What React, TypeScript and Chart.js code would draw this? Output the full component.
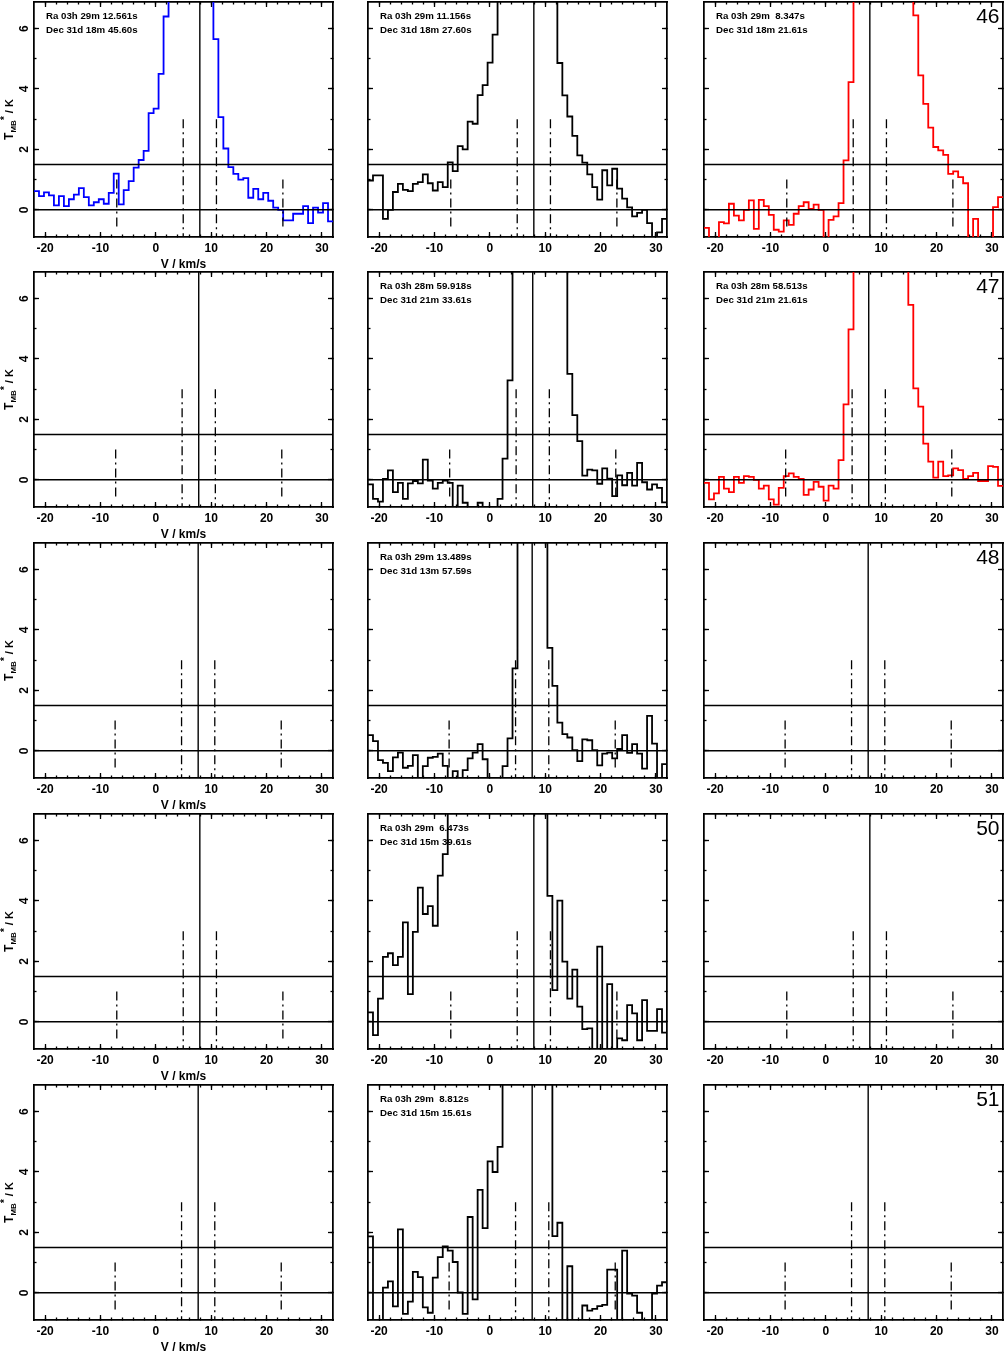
import React, { useEffect, useRef } from 'react';
import { Chart, registerables } from 'chart.js';

Chart.register(...registerables);

// ---------------- data ----------------
const V_MIN = -22;
const V_MAX = 32;
const T_MIN = -0.9;
const T_MAX = 6.88;

const X_MAJOR = [-20, -10, 0, 10, 20, 30];
const X_MINOR = [-20, -18, -16, -14, -12, -10, -8, -6, -4, -2, 0, 2, 4, 6, 8, 10, 12, 14, 16, 18, 20, 22, 24, 26, 28, 30];
const Y_MAJOR = [0, 2, 4, 6];
const Y_MINOR = [0, 1, 2, 3, 4, 5, 6];

const T_BASE = 0;
const T_LIMIT = 1.5;

// systemic velocity per row and hyperfine offsets (km/s)
const VSYS = [7.95, 7.75, 7.65, 7.95, 7.65];
const HF_OFFSET = [-15, -3, 3, 15];
const HF_TOP = [1.0, 3.0, 3.0, 1.0];
const HF_BOTTOM = [-0.57, -0.9, -0.9, -0.57];

// channel centre velocities (km/s)
const CHANNEL_V = [
  -21.55, -20.65, -19.75, -18.85, -17.95, -17.05, -16.15, -15.25, -14.35, -13.45,
  -12.55, -11.65, -10.75, -9.85, -8.95, -8.05, -7.15, -6.25, -5.35, -4.45,
  -3.55, -2.65, -1.75, -0.85, 0.05, 0.95, 1.85, 2.75, 3.65, 4.55,
  5.45, 6.35, 7.25, 8.15, 9.05, 9.95, 10.85, 11.75, 12.65, 13.55,
  14.45, 15.35, 16.25, 17.15, 18.05, 18.95, 19.85, 20.75, 21.65, 22.55,
  23.45, 24.35, 25.25, 26.15, 27.05, 27.95, 28.85, 29.75, 30.65, 31.55,
];

const SPEC_R1C1 = [
  0.62, 0.45, 0.58, 0.48, 0.15, 0.45, 0.12, 0.35, 0.5, 0.72,
  0.42, 0.15, 0.25, 0.35, 0.2, 0.56, 1.2, 0.18, 0.65, 0.95,
  1.4, 1.65, 1.95, 3.2, 3.35, 4.5, 6.4, 8.5, 10.5, 12,
  13, 13.5, 13, 12, 10, 8, 5.65, 3.07, 2.03, 1.41,
  1.19, 1.0, 1.05, 0.4, 0.69, 0.35, 0.56, 0.3, 0.07, 0.0,
  -0.35, -0.35, -0.13, -0.13, 0.12, -0.44, 0.07, -0.09, 0.22, -0.38,
];
const SPEC_R1C2 = [
  0.97, 1.14, 1.14, -0.3, 0.0, 0.59, 0.86, 0.66, 0.62, 0.86,
  0.92, 1.17, 0.88, 0.64, 0.92, 0.75, 1.57, 1.28, 2.11, 2.0,
  2.92, 2.85, 3.8, 4.13, 4.87, 5.8, 7.5, 9, 10.5, 12,
  13, 13.5, 13, 12, 11, 10, 9, 8, 4.86, 3.79,
  3.09, 2.45, 1.8, 1.56, 1.17, 0.75, 0.34, 1.31, 0.81, 1.36,
  0.7, 0.37, 0.08, -0.22, -0.1, 0.0, -0.44, -1.2, -0.75, -0.3,
];
const SPEC_R1C3 = [
  -0.6, -1.3, -1.3, -0.41, -0.45, 0.2, -0.19, -0.35, 0.0, 0.31,
  -0.63, 0.33, 0.12, -0.17, -0.66, -0.72, -0.35, -0.5, -0.13, 0.12,
  0.25, 0.03, 0.17, 0.0, -1.3, -0.33, -0.22, 0.22, 1.64, 4.23,
  8, 10, 12, 13.5, 14.5, 15, 15, 14.5, 13.5, 12,
  10.5, 8.5, 6.44, 4.45, 3.51, 2.72, 2.08, 1.97, 1.82, 1.19,
  1.27, 1.08, 0.88, -1.3, -0.3, -1.3, -1.3, -1.3, 0.09, 0.42,
];
const SPEC_R2C2 = [
  -0.15, -0.63, -0.72, 0.03, 0.31, -0.41, -0.1, -0.63, -0.12, -0.04,
  -0.12, 0.67, -0.03, -0.29, -0.1, -0.03, -0.1, -1.3, -0.19, -0.76,
  -1.3, -1.3, -0.76, -1.3, -1.3, -1.3, -0.63, 0.7, 3.29, 8,
  11, 13, 14, 14, 13.5, 12.5, 11, 9.5, 8, 7.5,
  3.51, 2.14, 1.28, 0.14, 0.34, 0.31, -0.13, 0.38, 0.04, -0.54,
  0.15, -0.18, 0.23, -0.19, 0.56, -0.08, -0.32, -0.15, -0.27, -0.75,
];
const SPEC_R2C3 = [
  -0.1, -0.65, -0.45, 0.1, -0.29, -0.41, 0.1, -0.1, 0.12, 0.1,
  0.0, -0.29, -0.19, -0.65, -0.82, -0.27, 0.12, 0.21, 0.1, 0.03,
  -0.5, -0.32, -0.07, -0.23, -0.69, -0.19, -0.29, 0.65, 2.5, 4.98,
  8, 10, 12, 13.5, 14.5, 15, 15, 14, 12.5, 10.5,
  8, 5.79, 3.03, 2.42, 1.2, 0.6, 0.07, 0.6, 0.12, 0.15,
  0.38, 0.32, 0.03, 0.12, 0.23, -0.04, -0.04, 0.45, 0.43, -0.2,
];
const SPEC_R3C2 = [
  0.52, 0.32, -0.31, -0.4, -0.67, -0.22, -0.06, -0.56, -0.5, -0.14,
  -1.3, -0.51, -0.23, -0.2, -0.09, -0.5, -1.3, -0.67, -1.3, -0.64,
  -0.25, -0.06, 0.22, -0.28, -1.3, -1.3, -1.3, -0.51, 0.41, 2.73,
  9, 12, 14, 14, 12, 9, 3.41, 2.15, 0.93, 0.55,
  0.44, 0.02, -0.34, 0.38, 0.35, 0.02, -0.48, -0.09, -0.06, -0.25,
  0.06, 0.52, -0.07, 0.22, -0.09, -0.59, 1.16, 0.24, -1.3, -0.44,
];
const SPEC_R4C2 = [
  0.31, -0.44, 0.77, 2.15, 2.27, 1.88, 2.15, 3.29, 0.92, 2.98,
  4.44, 3.57, 3.83, 3.18, 4.84, 5.55, 7.2, 8.4, 9.1, 10.6,
  11.3, 12.8, 13.2, 14.6, 15.1, 15.8, 16.3, 16.0, 15.4, 14.9,
  13.7, 13.1, 11.8, 10.4, 9.2, 7.9, 4.17, 1.05, 4.01, 1.99,
  0.77, 1.73, 0.5, -0.24, -0.22, -1.3, 2.49, -1.3, 1.25, -1.3,
  -0.55, -0.61, 0.55, 0.28, -0.61, 0.72, -0.3, -0.3, 0.42, -0.36,
];
const SPEC_R5C2 = [
  1.87, -1.3, -1.3, 0.17, 0.38, -0.45, 2.1, -0.7, -0.29, 0.69,
  0.52, -0.48, -0.66, 0.5, 1.18, 1.54, 1.4, 1.02, 0.01, -0.7,
  2.51, -0.22, 3.41, 2.14, 4.35, 4.0, 4.83, 8, 9.5, 11,
  12, 12.5, 12.5, 12, 11, 9.5, 8, 1.88, 2.32, -1.3,
  0.88, -1.3, -1.3, -0.42, -0.59, -0.53, -0.44, -0.4, 0.77, 0.77,
  -1.3, 1.4, -0.03, -0.09, -0.66, -1.3, -1.3, -0.03, 0.24, 0.35,
];

const PANEL_NUMBERS = ['46', '47', '48', '50', '51'];

const BLUE = '#0000ff';
const RED = '#ff0000';
const BLACK = '#000000';

type PanelDef = { row: number; col: number; spec?: number[]; color?: string; ra?: string; dec?: string };

const PANELS: PanelDef[] = [
  { row: 0, col: 0, spec: SPEC_R1C1, color: BLUE, ra: 'Ra 03h 29m 12.561s', dec: 'Dec 31d 18m 45.60s' },
  { row: 0, col: 1, spec: SPEC_R1C2, color: BLACK, ra: 'Ra 03h 29m 11.156s', dec: 'Dec 31d 18m 27.60s' },
  { row: 0, col: 2, spec: SPEC_R1C3, color: RED, ra: 'Ra 03h 29m  8.347s', dec: 'Dec 31d 18m 21.61s' },
  { row: 1, col: 0 },
  { row: 1, col: 1, spec: SPEC_R2C2, color: BLACK, ra: 'Ra 03h 28m 59.918s', dec: 'Dec 31d 21m 33.61s' },
  { row: 1, col: 2, spec: SPEC_R2C3, color: RED, ra: 'Ra 03h 28m 58.513s', dec: 'Dec 31d 21m 21.61s' },
  { row: 2, col: 0 },
  { row: 2, col: 1, spec: SPEC_R3C2, color: BLACK, ra: 'Ra 03h 29m 13.489s', dec: 'Dec 31d 13m 57.59s' },
  { row: 2, col: 2 },
  { row: 3, col: 0 },
  { row: 3, col: 1, spec: SPEC_R4C2, color: BLACK, ra: 'Ra 03h 29m  6.473s', dec: 'Dec 31d 15m 39.61s' },
  { row: 3, col: 2 },
  { row: 4, col: 0 },
  { row: 4, col: 1, spec: SPEC_R5C2, color: BLACK, ra: 'Ra 03h 29m  8.812s', dec: 'Dec 31d 15m 15.61s' },
  { row: 4, col: 2 },
];

// ---------------- layout ----------------
const COL_LEFT = [34, 368, 704];
const ROW_TOP = [2, 272, 543, 814, 1085];
const AREA_W = 299;
const AREA_H = 235;
const PAD_L = 34;
const PAD_R = 4;
const PAD_T = 4;
const PAD_B = 40;
const CANVAS_W = PAD_L + AREA_W + PAD_R;
const CANVAS_H = PAD_T + AREA_H + PAD_B;

const FONT = '"Liberation Sans", Arial, Helvetica, sans-serif';

const sized = (dim: 'width' | 'height', size: number) => (scale: any) => {
  scale[dim] = size;
  scale.paddingLeft = 0;
  scale.paddingRight = 0;
  scale.paddingTop = 0;
  scale.paddingBottom = 0;
};

const setTicks = (values: number[]) => (scale: any) => {
  scale.ticks = values.map((v) => ({ value: v }));
};

function axis(position: string, weight: number, values: number[], tickLength: number, min: number, max: number, dim: 'width' | 'height', size: number, ticks: any) {
  return {
    type: 'linear',
    position,
    weight,
    min,
    max,
    afterBuildTicks: setTicks(values),
    afterFit: sized(dim, size),
    border: { display: true, color: BLACK, width: 1.5 },
    grid: {
      display: true,
      drawOnChartArea: false,
      drawTicks: true,
      tickLength,
      tickColor: BLACK,
      tickWidth: 1.3,
      color: BLACK,
    },
    ticks,
  };
}

const NO_TICKS = { display: false };

function makeConfig(p: PanelDef): any {
  const vsys = VSYS[p.row];
  const ref = { borderColor: BLACK, borderWidth: 1.4, pointRadius: 0, fill: false, clip: 0, xAxisID: 'x', yAxisID: 'y' };
  const datasets: any[] = [
    { ...ref, data: [{ x: V_MIN, y: T_BASE }, { x: V_MAX, y: T_BASE }] },
    { ...ref, data: [{ x: V_MIN, y: T_LIMIT }, { x: V_MAX, y: T_LIMIT }] },
    { ...ref, data: [{ x: vsys, y: T_MIN }, { x: vsys, y: T_MAX }] },
  ];
  HF_OFFSET.forEach((off, i) => {
    datasets.push({
      ...ref,
      borderWidth: 1.3,
      borderDash: [9, 4, 2, 4],
      data: [{ x: vsys + off, y: HF_TOP[i] }, { x: vsys + off, y: HF_BOTTOM[i] }],
    });
  });
  if (p.spec) {
    const s = p.spec;
    datasets.push({
      borderColor: p.color,
      borderWidth: 1.8,
      pointRadius: 0,
      fill: false,
      clip: 0,
      stepped: 'middle',
      xAxisID: 'x',
      yAxisID: 'y',
      data: [
        { x: V_MIN, y: s[0] },
        ...CHANNEL_V.map((v, i) => ({ x: v, y: s[i] })),
        { x: V_MAX, y: s[s.length - 1] },
      ],
    });
  }

  const labelFont = { family: FONT, size: 12, weight: 'bold' };

  return {
    type: 'line',
    data: { datasets },
    options: {
      responsive: false,
      maintainAspectRatio: false,
      devicePixelRatio: 1,
      animation: false,
      events: [],
      layout: { padding: 0, autoPadding: false },
      plugins: { legend: { display: false }, tooltip: { enabled: false }, title: { display: false } },
      scales: {
        x: axis('bottom', 1, X_MAJOR, -5, V_MIN, V_MAX, 'height', PAD_B, {
          display: true,
          font: labelFont,
          color: BLACK,
          padding: 9,
          maxRotation: 0,
          minRotation: 0,
          autoSkip: false,
          callback: (v: any) => String(v),
        }),
        y: axis('left', 1, Y_MAJOR, -5, T_MIN, T_MAX, 'width', PAD_L, {
          display: p.col === 0,
          font: labelFont,
          color: BLACK,
          padding: 11,
          minRotation: 90,
          maxRotation: 90,
          crossAlign: 'center',
          autoSkip: false,
          callback: (v: any) => String(v),
        }),
        xMinB: axis('bottom', 0, X_MINOR, -2.5, V_MIN, V_MAX, 'height', 0, NO_TICKS),
        xTop: axis('top', 1, X_MAJOR, -5, V_MIN, V_MAX, 'height', PAD_T, NO_TICKS),
        xMinT: axis('top', 0, X_MINOR, -2.5, V_MIN, V_MAX, 'height', 0, NO_TICKS),
        yMinL: axis('left', 0, Y_MINOR, -2.5, T_MIN, T_MAX, 'width', 0, NO_TICKS),
        yRight: axis('right', 1, Y_MAJOR, -5, T_MIN, T_MAX, 'width', PAD_R, NO_TICKS),
        yMinR: axis('right', 0, Y_MINOR, -2.5, T_MIN, T_MAX, 'width', 0, NO_TICKS),
      },
    },
    plugins: [
      {
        id: 'panelText',
        afterDraw(chart: any) {
          const { ctx, chartArea: a } = chart;
          ctx.save();
          ctx.fillStyle = BLACK;
          if (p.ra) {
            ctx.font = `bold 9.7px ${FONT}`;
            ctx.textAlign = 'left';
            ctx.textBaseline = 'alphabetic';
            ctx.fillText(p.ra, a.left + 12, a.top + 17);
            ctx.fillText(p.dec, a.left + 12, a.top + 31);
          }
          if (p.col === 2) {
            ctx.font = `21px ${FONT}`;
            ctx.textAlign = 'right';
            ctx.textBaseline = 'alphabetic';
            ctx.fillText(PANEL_NUMBERS[p.row], a.right - 3.5, a.top + 21);
          }
          if (p.col === 0) {
            // x-axis title
            ctx.font = `bold 12px ${FONT}`;
            ctx.textAlign = 'center';
            ctx.textBaseline = 'middle';
            ctx.fillText('V / km/s', (a.left + a.right) / 2, a.bottom + 28);
            // y-axis title, rotated, with sub/superscript
            const parts: [string, string, number][] = [
              ['T', `bold 12px ${FONT}`, 0],
              ['MB', `bold 8px ${FONT}`, 3],
              ['*', `bold 10px ${FONT}`, -5],
              [' / K', `bold 11px ${FONT}`, 0],
            ];
            let total = 0;
            const widths = parts.map(([t, f]) => {
              ctx.font = f;
              const w = ctx.measureText(t).width;
              total += w;
              return w;
            });
            ctx.translate(a.left - 21.5, (a.top + a.bottom) / 2);
            ctx.rotate(-Math.PI / 2);
            ctx.textAlign = 'left';
            ctx.textBaseline = 'alphabetic';
            let x = -total / 2;
            parts.forEach(([t, f, dy], i) => {
              ctx.font = f;
              ctx.fillText(t, x, dy);
              x += widths[i];
            });
          }
          ctx.restore();
        },
      },
    ],
  };
}

function Panel({ def }: { def: PanelDef }) {
  const ref = useRef<HTMLCanvasElement | null>(null);
  useEffect(() => {
    const canvas = ref.current;
    if (!canvas) return;
    const chart = new Chart(canvas, makeConfig(def));
    return () => chart.destroy();
  }, [def]);
  const left = COL_LEFT[def.col] - PAD_L;
  const top = ROW_TOP[def.row] - PAD_T;
  return (
    <canvas
      ref={ref}
      width={CANVAS_W}
      height={CANVAS_H}
      style={{ position: 'absolute', left, top, width: CANVAS_W, height: CANVAS_H, display: 'block' }}
    />
  );
}

export default function App() {
  return (
    <div style={{ position: 'absolute', left: 0, top: 0, width: 1004, height: 1356, background: '#fff', overflow: 'hidden' }}>
      {PANELS.map((d) => (
        <Panel key={`${d.row}-${d.col}`} def={d} />
      ))}
    </div>
  );
}
